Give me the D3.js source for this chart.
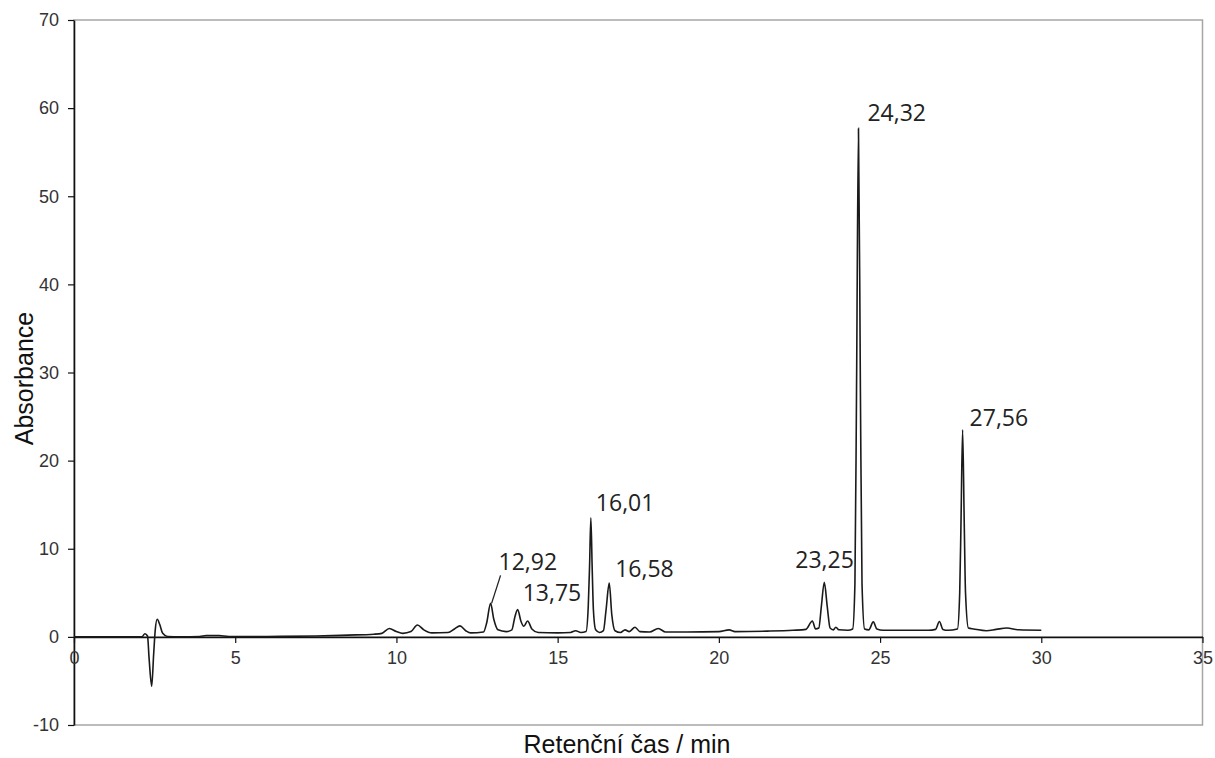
<!DOCTYPE html>
<html>
<head>
<meta charset="utf-8">
<script src="https://cdn.jsdelivr.net/npm/d3@7"></script>
<style>
  body { margin: 0; background: #fff; }
  svg { display: block; }
</style>
</head>
<body>
<div id="chart"></div>
<script>
// Chromatogram points: [time (min), absorbance]
const trace = [
  [0, 0], [1.5, 0], [2.1, 0], [2.2, 0.35], [2.28, 0.1], [2.33, -2.5], [2.41, -5.6],
  [2.47, -2.0], [2.52, 0.8], [2.58, 2.0], [2.66, 1.4], [2.75, 0.4], [2.9, 0.05],
  [3.3, 0], [3.9, 0.05], [4.1, 0.15], [4.5, 0.15], [4.8, 0.05], [6, 0.05], [7.5, 0.1],
  [8.5, 0.2], [9.3, 0.3], [9.55, 0.4], [9.78, 0.95], [10.0, 0.6], [10.2, 0.4],
  [10.45, 0.6], [10.65, 1.35], [10.85, 0.8], [11.1, 0.45], [11.6, 0.5], [11.8, 0.9],
  [11.97, 1.25], [12.15, 0.7], [12.3, 0.45], [12.7, 0.55], [12.8, 1.6], [12.92, 3.8],
  [13.02, 2.0], [13.15, 0.8], [13.4, 0.6], [13.58, 0.8], [13.67, 2.2], [13.76, 3.1],
  [13.86, 1.8], [13.95, 1.2], [14.07, 1.8], [14.2, 0.9], [14.4, 0.5], [15.0, 0.45],
  [15.4, 0.5], [15.56, 0.7], [15.72, 0.5], [15.88, 0.6], [15.95, 3.5], [15.99, 8],
  [16.03, 13.5], [16.07, 8], [16.11, 3], [16.18, 0.8], [16.3, 0.5], [16.42, 0.7],
  [16.5, 3.0], [16.6, 6.1], [16.68, 2.5], [16.78, 0.7], [16.95, 0.5], [17.09, 0.8],
  [17.22, 0.6], [17.4, 1.1], [17.55, 0.6], [17.85, 0.55], [18.12, 0.95], [18.35, 0.55],
  [19, 0.55], [20, 0.6], [20.32, 0.8], [20.5, 0.6], [21.5, 0.65], [22.3, 0.75],
  [22.7, 0.85], [22.9, 1.8], [23.0, 0.9], [23.1, 1.0], [23.18, 3.5], [23.27, 6.2],
  [23.36, 3.5], [23.45, 1.0], [23.55, 0.8], [23.63, 1.1], [23.72, 0.8], [24.0, 0.75],
  [24.15, 0.9], [24.22, 6], [24.27, 28], [24.33, 57.7], [24.39, 28], [24.44, 6],
  [24.52, 0.9], [24.65, 0.8], [24.79, 1.7], [24.9, 0.9], [25.1, 0.75], [26.5, 0.75],
  [26.72, 0.85], [26.84, 1.75], [26.95, 0.85], [27.1, 0.75], [27.4, 0.9], [27.47, 5],
  [27.51, 13], [27.56, 23.5], [27.61, 13], [27.65, 5], [27.74, 1.0], [27.9, 0.9],
  [28.3, 0.7], [28.6, 0.85], [28.93, 1.0], [29.3, 0.8], [30, 0.75]
];

// Labelled peaks (retention times as printed)
const peakLabels = ["12,92", "13,75", "16,01", "16,58", "23,25", "24,32", "27,56"];
const peakTimes  = [12.92, 13.76, 16.03, 16.6, 23.27, 24.33, 27.56];

const xTicks = [0, 5, 10, 15, 20, 25, 30, 35];
const yTicks = [-10, 0, 10, 20, 30, 40, 50, 60, 70];

const width = 1215, height = 758;
const plot = { left: 74, right: 1202.5, top: 20, bottom: 725 };

const svg = d3.select("#chart").append("svg")
  .attr("width", width)
  .attr("height", height);

const x = d3.scaleLinear().domain([0, 35]).range([plot.left, plot.right]);
const y = d3.scaleLinear().domain([-10, 70]).range([plot.bottom, plot.top]);

// grey plot frame
svg.append("rect")
  .attr("x", plot.left).attr("y", plot.top)
  .attr("width", plot.right - plot.left).attr("height", plot.bottom - plot.top)
  .attr("fill", "none")
  .attr("stroke", "#a6a6a6")
  .attr("stroke-width", 1.5);

// Y axis (plain hyphen for negatives, like the original)
const yAxis = svg.append("g")
  .attr("transform", `translate(${plot.left},0)`)
  .call(d3.axisLeft(y).tickValues(yTicks).tickFormat(d => String(d))
    .tickSize(6).tickSizeOuter(0).tickPadding(9));
yAxis.select(".domain").attr("stroke", "#111").attr("stroke-width", 1.6);
yAxis.selectAll(".tick line").attr("stroke", "#111").attr("stroke-width", 1.2);
yAxis.selectAll("text")
  .attr("fill", "#333")
  .style("font-family", "'Liberation Sans', Arial, sans-serif")
  .style("font-size", "18px");

// X axis at zero
const xAxis = svg.append("g")
  .attr("transform", `translate(0,${y(0)})`)
  .call(d3.axisBottom(x).tickValues(xTicks).tickFormat(d => String(d))
    .tickSize(6).tickSizeOuter(0).tickPadding(8));
xAxis.select(".domain").attr("stroke", "#111").attr("stroke-width", 1.6);
xAxis.selectAll(".tick line").attr("stroke", "#111").attr("stroke-width", 1.2);
xAxis.selectAll("text")
  .attr("fill", "#333")
  .style("font-family", "'Liberation Sans', Arial, sans-serif")
  .style("font-size", "18px");

// axis titles
svg.append("text")
  .attr("transform", `translate(33,${(plot.top + plot.bottom) / 2 + 6}) rotate(-90)`)
  .attr("text-anchor", "middle")
  .style("font-family", "'Liberation Sans', Arial, sans-serif")
  .style("font-size", "25px")
  .attr("fill", "#111")
  .text("Absorbance");

svg.append("text")
  .attr("x", 627)
  .attr("y", 753)
  .attr("text-anchor", "middle")
  .style("font-family", "'Liberation Sans', Arial, sans-serif")
  .style("font-size", "25px")
  .attr("fill", "#111")
  .text("Retenční čas / min");

// chromatogram trace
const line = d3.line()
  .x(d => x(d[0]))
  .y(d => y(d[1]))
  .curve(d3.curveMonotoneX);

svg.append("path")
  .datum(trace)
  .attr("fill", "none")
  .attr("stroke", "#1a1a1a")
  .attr("stroke-width", 1.6)
  .attr("d", line);

// peak labels, offset from each apex (px)
const labelOffsets = [[8, -33], [5, -9], [5, -7], [6, -6], [-29, -14], [9, -7], [7, -4]];
const apex = t => trace.reduce((a, b) => Math.abs(b[0] - t) < Math.abs(a[0] - t) ? b : a);

peakLabels.forEach((label, i) => {
  const p = apex(peakTimes[i]);
  const [dx, dy] = labelOffsets[i];
  svg.append("text")
    .attr("x", x(p[0]) + dx)
    .attr("y", y(p[1]) + dy)
    .style("font-family", "'Open Sans', 'Noto Sans', sans-serif")
    .style("font-size", "23px")
    .attr("fill", "#222")
    .text(label);
});

// leader line for 12,92
const p1292 = apex(peakTimes[0]);
svg.append("line")
  .attr("x1", x(p1292[0]) + 1).attr("y1", y(p1292[1]))
  .attr("x2", x(p1292[0]) + 10).attr("y2", y(p1292[1]) - 28)
  .attr("stroke", "#222")
  .attr("stroke-width", 1.3);
</script>
</body>
</html>
